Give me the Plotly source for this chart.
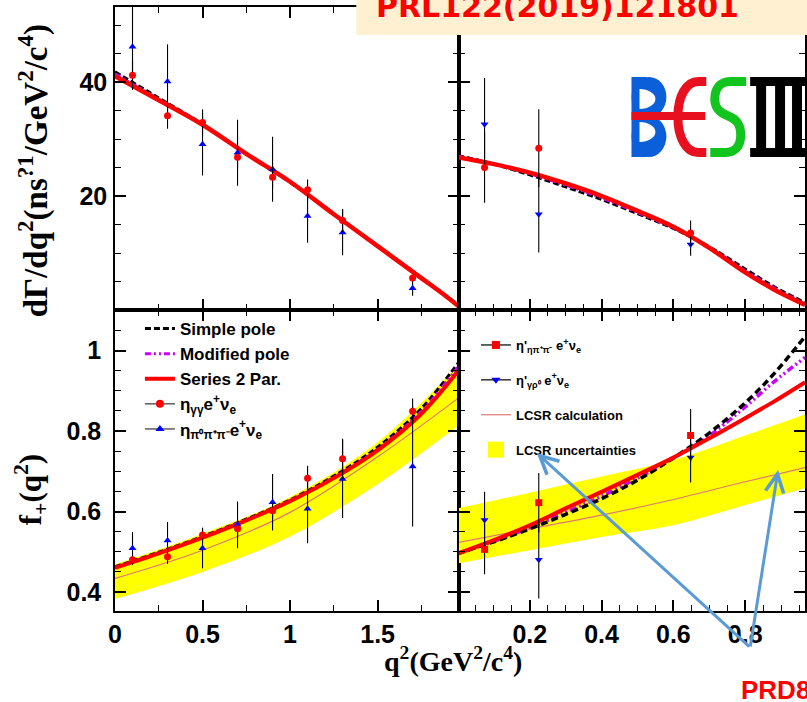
import plotly.graph_objects as go

# ---------------- data ----------------
# D_s+ -> eta e+ nu : partial rate (ns^-1 / GeV^2/c^4) and form factor
q_eta = [0.1, 0.3, 0.5, 0.7, 0.9, 1.1, 1.3, 1.7]
rate_gg = [41.2, 34.1, 32.9, 26.8, 23.3, 21.1, 15.7, 5.6]
rate_gg_err = [2.5, 2.3, 2.3, 2.0, 2.0, 1.8, 2.0, 0.6]
rate_3pi = [46.2, 40.1, 29.1, 27.6, 24.7, 16.5, 13.6, 3.8]
rate_3pi_err = [7.6, 6.5, 5.5, 5.8, 5.7, 4.7, 4.0, 1.3]
ff_gg = [0.480, 0.488, 0.542, 0.557, 0.602, 0.683, 0.731, 0.849]
ff_gg_err = [0.012, 0.018, 0.018, 0.020, 0.020, 0.031, 0.050, 0.032]
ff_3pi = [0.509, 0.528, 0.509, 0.567, 0.623, 0.607, 0.681, 0.712]
ff_3pi_err = [0.040, 0.046, 0.050, 0.058, 0.070, 0.086, 0.097, 0.149]

# D_s+ -> eta' e+ nu
q_etap = [0.074, 0.225, 0.648]
rate_etap_a = [25.0, 28.4, 13.5]
rate_etap_a_err = [6.2, 6.8, 2.2]
rate_etap_b = [32.6, 16.8, 11.5]
rate_etap_b_err = [8.1, 6.7, 2.0]
ff_etap_a = [0.506, 0.622, 0.789]
ff_etap_a_err = [0.062, 0.074, 0.066]
ff_etap_b = [0.579, 0.480, 0.734]
ff_etap_b_err = [0.070, 0.096, 0.062]

# fitted curves (eta)
q_fit_eta = [0, 0.25, 0.5, 0.75, 1.0, 1.25, 1.5, 1.75, 1.9, 1.965]
rate_series_eta = [41.0, 36.8, 32.5, 27.4, 22.5, 16.8, 11.2, 5.6, 2.2, 0.6]
rate_pole_eta = [41.8, 37.2, 32.6, 27.4, 22.4, 16.8, 11.3, 5.7, 2.3, 0.7]
rate_modpole_eta = [41.4, 37.0, 32.5, 27.4, 22.5, 16.8, 11.2, 5.6, 2.2, 0.6]
q_ff_eta = [0, 0.25, 0.5, 0.75, 1.0, 1.25, 1.5, 1.75, 1.965]
ff_series_eta = [0.460, 0.496, 0.535, 0.578, 0.626, 0.683, 0.752, 0.843, 0.952]
ff_pole_eta = [0.463, 0.499, 0.538, 0.581, 0.629, 0.688, 0.760, 0.856, 0.972]
ff_modpole_eta = [0.461, 0.497, 0.536, 0.579, 0.627, 0.685, 0.755, 0.849, 0.962]
q_lcsr_eta = [0, 0.5, 1.0, 1.5, 1.965]
lcsr_eta = [0.434, 0.504, 0.598, 0.736, 0.883]
lcsr_eta_hi = [0.469, 0.545, 0.636, 0.772, 0.965]
lcsr_eta_lo = [0.383, 0.450, 0.538, 0.668, 0.815]

# fitted curves (eta')
q_fit_etap = [0, 0.1, 0.2, 0.3, 0.4, 0.5, 0.6, 0.7, 0.8, 0.88, 0.967]
rate_series_etap = [26.8, 25.6, 24.1, 22.2, 20.0, 17.4, 14.6, 10.9, 6.6, 3.6, 0.9]
rate_pole_etap = [27.1, 25.6, 23.7, 21.6, 19.4, 16.9, 14.3, 11.1, 7.2, 4.1, 1.3]
rate_modpole_etap = [27.0, 25.6, 23.9, 21.9, 19.7, 17.1, 14.4, 11.0, 6.9, 3.9, 1.1]
ff_series_etap = [0.496, 0.529, 0.566, 0.608, 0.649, 0.691, 0.734, 0.782, 0.832, 0.873, 0.921]
ff_pole_etap = [0.496, 0.525, 0.557, 0.593, 0.632, 0.678, 0.733, 0.795, 0.870, 0.942, 1.035]
ff_modpole_etap = [0.496, 0.526, 0.560, 0.598, 0.638, 0.683, 0.733, 0.788, 0.860, 0.922, 0.983]
q_lcsr_etap = [0, 0.2, 0.4, 0.6, 0.8, 0.967]
lcsr_etap = [0.523, 0.557, 0.591, 0.630, 0.674, 0.709]
lcsr_etap_hi = [0.608, 0.647, 0.687, 0.728, 0.789, 0.841]
lcsr_etap_lo = [0.471, 0.504, 0.537, 0.566, 0.616, 0.658]

# ---------------- layout geometry ----------------
W, H = 807, 702
ML, MR, MT, MB = 115, 0, 7, 91
PW, PH = W - ML - MR, H - MT - MB


def px(x):
    return (x - ML) / PW


def py(y):
    return 1 - (y - MT) / PH


X_LEFT = [0, px(460)]
X_RIGHT = [px(460), 1]
Y_TOP = [py(310), 1]
Y_BOT = [0, py(310)]

SANS = "Liberation Sans, Arial, sans-serif"
SERIF = "Liberation Serif, DejaVu Serif, serif"

RED = "#ff0000"
BLUE = "#0000ff"
MAGENTA = "#cc00ff"
YELLOW = "#ffff00"
SALMON = "#e07878"

fig = go.Figure()


def curve(x, y, xa, ya, color, width, dash="solid"):
    fig.add_trace(go.Scatter(
        x=x, y=y, xaxis=xa, yaxis=ya, mode="lines",
        line=dict(color=color, width=width, dash=dash, shape="spline", smoothing=1.0),
        showlegend=False, hoverinfo="skip"))


def band(x, lo, hi, xa, ya):
    fig.add_trace(go.Scatter(x=x, y=lo, xaxis=xa, yaxis=ya, mode="lines",
                             line=dict(width=0, shape="spline"), showlegend=False,
                             hoverinfo="skip"))
    fig.add_trace(go.Scatter(x=x, y=hi, xaxis=xa, yaxis=ya, mode="lines",
                             line=dict(width=0, shape="spline"), fill="tonexty",
                             fillcolor=YELLOW, showlegend=False, hoverinfo="skip"))


def points(x, y, err, xa, ya, color, symbol, size=7):
    fig.add_trace(go.Scatter(
        x=x, y=y, xaxis=xa, yaxis=ya, mode="markers",
        marker=dict(color=color, symbol=symbol, size=size, line=dict(width=0)),
        error_y=dict(type="data", array=err, color="black", thickness=1.1, width=0),
        showlegend=False, hoverinfo="skip"))


def legend_entry(name, legend, rank, line=None, marker=None, mode="lines"):
    fig.add_trace(go.Scatter(
        x=[None], y=[None], xaxis="x3", yaxis="y3", mode=mode, name=name,
        line=line or dict(width=0), marker=marker or dict(size=1),
        showlegend=True, legend=legend, legendrank=rank,
        legendgroup=f"{legend}-{rank}", hoverinfo="skip"))


DASH = "6px,3px"
DASHDOT = "6px,3px,2px,3px,2px,3px"

# ---- top-left: eta rate ----
curve(q_fit_eta, rate_pole_eta, "x", "y", "black", 3, DASH)
curve(q_fit_eta, rate_modpole_eta, "x", "y", MAGENTA, 3, DASHDOT)
curve(q_fit_eta, rate_series_eta, "x", "y", RED, 4.5)
points(q_eta, rate_3pi, rate_3pi_err, "x", "y", BLUE, "triangle-up")
points(q_eta, rate_gg, rate_gg_err, "x", "y", RED, "circle")

# ---- top-right: eta' rate ----
curve(q_fit_etap, rate_pole_etap, "x2", "y2", "black", 3, DASH)
curve(q_fit_etap, rate_modpole_etap, "x2", "y2", MAGENTA, 3, DASHDOT)
curve(q_fit_etap, rate_series_etap, "x2", "y2", RED, 4.5)
points(q_etap, rate_etap_b, rate_etap_b_err, "x2", "y2", BLUE, "triangle-down")
points(q_etap, rate_etap_a, rate_etap_a_err, "x2", "y2", RED, "circle")

# ---- bottom-left: eta form factor ----
band(q_lcsr_eta, lcsr_eta_lo, lcsr_eta_hi, "x3", "y3")
curve(q_lcsr_eta, lcsr_eta, "x3", "y3", SALMON, 1.2)
curve(q_ff_eta, ff_pole_eta, "x3", "y3", "black", 3, DASH)
curve(q_ff_eta, ff_modpole_eta, "x3", "y3", MAGENTA, 3, DASHDOT)
curve(q_ff_eta, ff_series_eta, "x3", "y3", RED, 4)
points(q_eta, ff_3pi, ff_3pi_err, "x3", "y3", BLUE, "triangle-up")
points(q_eta, ff_gg, ff_gg_err, "x3", "y3", RED, "circle")

# ---- bottom-right: eta' form factor ----
band(q_lcsr_etap, lcsr_etap_lo, lcsr_etap_hi, "x4", "y4")
curve(q_lcsr_etap, lcsr_etap, "x4", "y4", SALMON, 1.2)
curve(q_fit_etap, ff_modpole_etap, "x4", "y4", MAGENTA, 3.5, "7px,3px,2px,3px,2px,3px")
curve(q_fit_etap, ff_pole_etap, "x4", "y4", "black", 3.5, "7px,4px")
curve(q_fit_etap, ff_series_etap, "x4", "y4", RED, 4)
points(q_etap, ff_etap_b, ff_etap_b_err, "x4", "y4", BLUE, "triangle-down")
points(q_etap, ff_etap_a, ff_etap_a_err, "x4", "y4", RED, "square")

# ---- legends ----
legend_entry("Simple pole", "legend", 1, line=dict(color="black", width=3, dash=DASH))
legend_entry("Modified pole", "legend", 2, line=dict(color=MAGENTA, width=3, dash=DASHDOT))
legend_entry("Series 2 Par.", "legend", 3, line=dict(color=RED, width=4))
legend_entry("η<sub>γγ</sub>e<sup>+</sup>ν<sub>e</sub>", "legend", 4,
             line=dict(color="#333333", width=1.2), marker=dict(color=RED, symbol="circle", size=8),
             mode="lines+markers")
legend_entry("η<sub>π⁰π⁺π⁻</sub>e<sup>+</sup>ν<sub>e</sub>", "legend", 5,
             line=dict(color="#333333", width=1.2), marker=dict(color=BLUE, symbol="triangle-up", size=8),
             mode="lines+markers")

legend_entry("η'<sub>ηπ⁺π⁻</sub> e<sup>+</sup>ν<sub>e</sub>", "legend2", 1,
             line=dict(color="black", width=1.2), marker=dict(color=RED, symbol="square", size=8),
             mode="lines+markers")
legend_entry("η'<sub>γρ⁰</sub> e<sup>+</sup>ν<sub>e</sub>", "legend2", 2,
             line=dict(color="black", width=1.2), marker=dict(color=BLUE, symbol="triangle-down", size=8),
             mode="lines+markers")
legend_entry("LCSR calculation", "legend2", 3, line=dict(color=SALMON, width=1.2))
legend_entry("LCSR uncertainties", "legend2", 4,
             marker=dict(color=YELLOW, symbol="square", size=22), mode="markers")

# ---------------- axes ----------------
TICKFONT = dict(family=SANS, size=25, color="black", weight="bold")


def axis(domain, anchor, rng, labels, tickvals, ticktext, minor_dtick, standoff=2):
    return dict(
        domain=domain, anchor=anchor, range=rng, showgrid=False, zeroline=False,
        showline=True, linecolor="black", linewidth=1.5, mirror="allticks",
        ticks="inside", ticklen=11, tickwidth=1.5, tickcolor="black",
        tickvals=tickvals, ticktext=ticktext, showticklabels=labels,
        tickfont=TICKFONT, ticklabelstandoff=standoff,
        minor=dict(ticks="inside", ticklen=6, tickwidth=1.2, tickcolor="black",
                   dtick=minor_dtick, tick0=0, showgrid=False),
        fixedrange=True)


XL_RANGE = [0, 1.965]
XR_RANGE = [0.0028, 0.9667]
YT_RANGE = [0, 53.16]
YB_RANGE = [0.353, 1.1006]

xl_vals, xl_text = [0, 0.5, 1, 1.5], ["0", "0.5", "1", "1.5"]
xr_vals, xr_text = [0.2, 0.4, 0.6, 0.8], ["0.2", "0.4", "0.6", "0.8"]
yt_vals, yt_text = [20, 40], ["20", "40"]
yb_vals, yb_text = [0.4, 0.6, 0.8, 1.0], ["0.4", "0.6", "0.8", "1"]

fig.update_layout(
    xaxis=axis(X_LEFT, "y", XL_RANGE, False, xl_vals, xl_text, 0.25),
    yaxis=axis(Y_TOP, "x", YT_RANGE, True, yt_vals, yt_text, 5, 1),
    xaxis2=axis(X_RIGHT, "y2", XR_RANGE, False, xr_vals, xr_text, 0.05),
    yaxis2=axis(Y_TOP, "x2", YT_RANGE, False, yt_vals, yt_text, 5),
    xaxis3=axis(X_LEFT, "y3", XL_RANGE, True, xl_vals, xl_text, 0.25, 0),
    yaxis3=axis(Y_BOT, "x3", YB_RANGE, True, yb_vals, yb_text, 0.05, 7),
    xaxis4=axis(X_RIGHT, "y4", XR_RANGE, True, xr_vals, xr_text, 0.05, 0),
    yaxis4=axis(Y_BOT, "x4", YB_RANGE, False, yb_vals, yb_text, 0.05),
)

fig.update_layout(
    width=W, height=H, autosize=False,
    margin=dict(l=ML, r=MR, t=MT, b=MB, pad=0),
    paper_bgcolor="white", plot_bgcolor="white",
    legend=dict(x=px(140), y=py(311), xanchor="left", yanchor="top",
                traceorder="normal", bgcolor="rgba(0,0,0,0)", borderwidth=0,
                tracegroupgap=0,
                font=dict(family=SANS, size=17, color="black", weight="bold")),
    legend2=dict(x=px(477), y=py(330), xanchor="left", yanchor="top",
                 traceorder="grouped", bgcolor="rgba(0,0,0,0)", borderwidth=0,
                 tracegroupgap=15,
                 font=dict(family=SANS, size=13, color="black", weight="bold")),
)

# ---------------- axis titles ----------------
ann = []
ann.append(dict(text="dΓ/dq<sup>2</sup>(ns<sup>?1</sup>/GeV<sup>2</sup>/c<sup>4</sup>)",
                textangle=-90, xref="paper", yref="paper", x=px(33), y=py(171),
                xanchor="center", yanchor="middle", showarrow=False,
                font=dict(family=SERIF, size=33, color="black", weight="bold")))
ann.append(dict(text="f<sub>+</sub>(q<sup>2</sup>)", textangle=-90,
                xref="paper", yref="paper", x=px(31), y=py(490),
                xanchor="center", yanchor="middle", showarrow=False,
                font=dict(family=SERIF, size=31, color="black", weight="bold")))
ann.append(dict(text="q<sup>2</sup>(GeV<sup>2</sup>/c<sup>4</sup>)",
                xref="paper", yref="paper", x=px(454), y=py(659),
                xanchor="center", yanchor="middle", showarrow=False,
                font=dict(family=SERIF, size=28, color="black", weight="bold")))

# reference banner and notes
ann.append(dict(text="PRL122(2019)121801", xref="paper", yref="paper",
                x=px(375), y=py(6), xanchor="left", yanchor="middle", showarrow=False,
                font=dict(family="DejaVu Sans, sans-serif", size=30, color=RED, weight="bold")))
ann.append(dict(text="PRD8", xref="paper", yref="paper",
                x=px(741), y=py(690), xanchor="left", yanchor="middle", showarrow=False,
                font=dict(family=SANS, size=26, color=RED, weight="bold")))

# arrows pointing at the LCSR band
ARROW = "#5b9bd5"
for hx, hy in [(538, 453), (780, 470)]:
    ann.append(dict(text="", xref="paper", yref="paper", x=px(hx), y=py(hy),
                    ax=752 - hx, ay=648 - hy, showarrow=True, arrowhead=5,
                    arrowsize=1.2, arrowwidth=3, arrowcolor=ARROW, standoff=0))

fig.update_layout(annotations=ann)

# ---------------- shapes: banner + logo ----------------
shapes = []


def prect(x0, y0, x1, y1, color):
    shapes.append(dict(type="rect", xref="paper", yref="paper",
                       x0=px(x0), x1=px(x1), y0=py(y1), y1=py(y0),
                       fillcolor=color, line=dict(width=0), layer="above"))


def pellipse(x0, y0, x1, y1, color):
    shapes.append(dict(type="circle", xref="paper", yref="paper",
                       x0=px(x0), x1=px(x1), y0=py(y1), y1=py(y0),
                       fillcolor=color, line=dict(width=0), layer="above"))


def ppath(cmds, color, width=None, fill=None):
    parts = []
    for c in cmds:
        op, pts = c[0], c[1:]
        coords = " ".join(f"{px(pts[i]):.5f},{py(pts[i + 1]):.5f}" for i in range(0, len(pts), 2))
        parts.append(f"{op} {coords}".strip())
    shapes.append(dict(type="path", xref="paper", yref="paper", path=" ".join(parts),
                       fillcolor=fill if fill else "rgba(0,0,0,0)",
                       line=dict(color=color, width=width if width else 0),
                       layer="above"))


prect(357, -5, 812, 35, "#fef0d0")

LOGO_BLUE, LOGO_RED, LOGO_GREEN = "#0b5fd8", "#e8101e", "#12c41e"
# B
pellipse(633, 77, 668, 117, LOGO_BLUE)
pellipse(633, 116, 668, 157, LOGO_BLUE)
prect(633, 77, 648, 157, LOGO_BLUE)
k = 0.5523
for (cx, y0, y1, rx) in [(641, 89, 109, 16), (641, 122, 142, 16)]:
    cy, ry = (y0 + y1) / 2, (y1 - y0) / 2
    ppath([("M", cx, y0),
           ("C", cx + k * rx, y0, cx + rx, cy - k * ry, cx + rx, cy),
           ("C", cx + rx, cy + k * ry, cx + k * rx, y1, cx, y1),
           ("Z",)], "white", 0, "white")
# E
ppath([("M", 708, 81.5), ("L", 700, 81.5),
       ("C", 688, 81.5, 679.5, 96, 679.5, 117),
       ("C", 679.5, 138, 688, 152.5, 700, 152.5),
       ("L", 708, 152.5)], LOGO_RED, 9)
prect(633, 112, 707, 120, LOGO_RED)
# S
ppath([("M", 748, 81.5), ("L", 732, 81.5),
       ("C", 722, 81.5, 716.5, 89, 716.5, 99),
       ("C", 716.5, 109, 722, 113, 730, 116),
       ("C", 738, 119, 742.5, 124, 742.5, 135),
       ("C", 742.5, 146, 737, 152.5, 727, 152.5),
       ("L", 712, 152.5)], LOGO_GREEN, 9)
# III
prect(752, 77, 812, 86, "black")
prect(752, 148, 812, 157, "black")
for x0 in (758, 777, 794):
    prect(x0, 85, x0 + 10, 149, "black")

fig.update_layout(shapes=shapes)

fig.write_html("out.html", include_plotlyjs=True, config={"displayModeBar": False})
